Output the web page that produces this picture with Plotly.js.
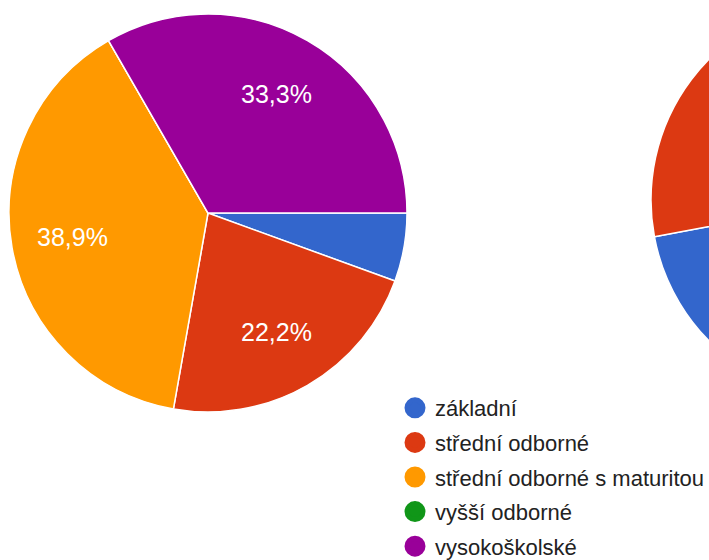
<!DOCTYPE html>
<html>
<head>
<meta charset="utf-8">
<script src="https://cdn.plot.ly/plotly-3.0.1.min.js"></script>
<style>
html,body{margin:0;padding:0;overflow:hidden;background:#fff;}
#chart{width:1100px;height:560px;}
</style>
</head>
<body>
<div id="chart"></div>
<script>
const categories = ['základní', 'střední odborné', 'střední odborné s maturitou', 'vyšší odborné', 'vysokoškolské'];
const colors = ['#3366CC', '#DC3912', '#FF9900', '#109618', '#990099'];
const counts1 = [1, 4, 7, 0, 6];
const labelsShown1 = [false, true, true, true, true];
// second (cropped) chart: only part of it is visible
const categories2 = ['základní', 'střední odborné'];
const counts2 = [8, 9];

const W = 1100, H = 560;
const labelFont = 'Arial, "Liberation Sans", sans-serif';

// pie geometry (pixels)
const P1 = {cx: 208, cy: 213, r: 199};
const P2 = {cx: 851, cy: 200, r: 200};

function domainOf(p) {
  return {x: [(p.cx - p.r) / W, (p.cx + p.r) / W], y: [1 - (p.cy + p.r) / H, Math.min(1, 1 - (p.cy - p.r) / H)]};
}

const pie1 = {
  type: 'pie',
  labels: categories,
  values: counts1,
  sort: false,
  direction: 'clockwise',
  rotation: 90,
  marker: {colors: colors, line: {color: '#ffffff', width: 1.5}},
  textinfo: 'none',
  hoverinfo: 'none',
  showlegend: false,
  domain: domainOf(P1)
};

const pie2 = {
  type: 'pie',
  labels: categories2,
  values: counts2,
  sort: false,
  direction: 'clockwise',
  rotation: 90,
  marker: {colors: colors.slice(0, 2), line: {color: '#ffffff', width: 1.5}},
  textinfo: 'none',
  hoverinfo: 'none',
  showlegend: false,
  domain: domainOf(P2)
};

// percentage labels placed along each slice's mid-angle (derived from the data)
const total1 = counts1.reduce((a, b) => a + b, 0);
const annotations = [];
let cum = 0;
counts1.forEach((v, i) => {
  const f = v / total1;
  const mid = (cum + f / 2) * 2 * Math.PI; // clockwise from 3 o'clock
  cum += f;
  if (!labelsShown1[i] || v === 0) return;
  const k = 0.69;
  const px = P1.cx + k * P1.r * Math.cos(mid);
  const py = P1.cy + k * P1.r * Math.sin(mid);
  annotations.push({
    xref: 'paper', yref: 'paper',
    x: px / W, y: 1 - py / H,
    xanchor: 'center', yanchor: 'middle',
    showarrow: false,
    text: (f * 100).toFixed(1).replace('.', ',') + '%',
    font: {family: labelFont, size: 25, color: '#ffffff'}
  });
});

const legendTraces = categories.map((c, i) => ({
  type: 'scatter',
  mode: 'markers',
  x: [null], y: [null],
  name: c,
  legendgroup: 'g' + i,
  marker: {color: colors[i], size: 16, symbol: 'circle', line: {color: colors[i], width: 5}},
  hoverinfo: 'none'
}));

const layout = {
  width: W, height: H,
  margin: {l: 0, r: 0, t: 0, b: 0, autoexpand: false},
  paper_bgcolor: '#ffffff',
  plot_bgcolor: '#ffffff',
  separators: ', ',
  xaxis: {visible: false},
  yaxis: {visible: false},
  showlegend: true,
  annotations: annotations,
  legend: {
    x: 395 / W, xanchor: 'left',
    y: 1 - 387 / H, yanchor: 'top',
    font: {family: labelFont, size: 22, color: '#222222'},
    tracegroupgap: 3,
    itemsizing: 'trace',
    bgcolor: 'rgba(0,0,0,0)'
  }
};

Plotly.newPlot('chart', [pie1, pie2, ...legendTraces], layout, {staticPlot: true, displayModeBar: false});
</script>
</body>
</html>
